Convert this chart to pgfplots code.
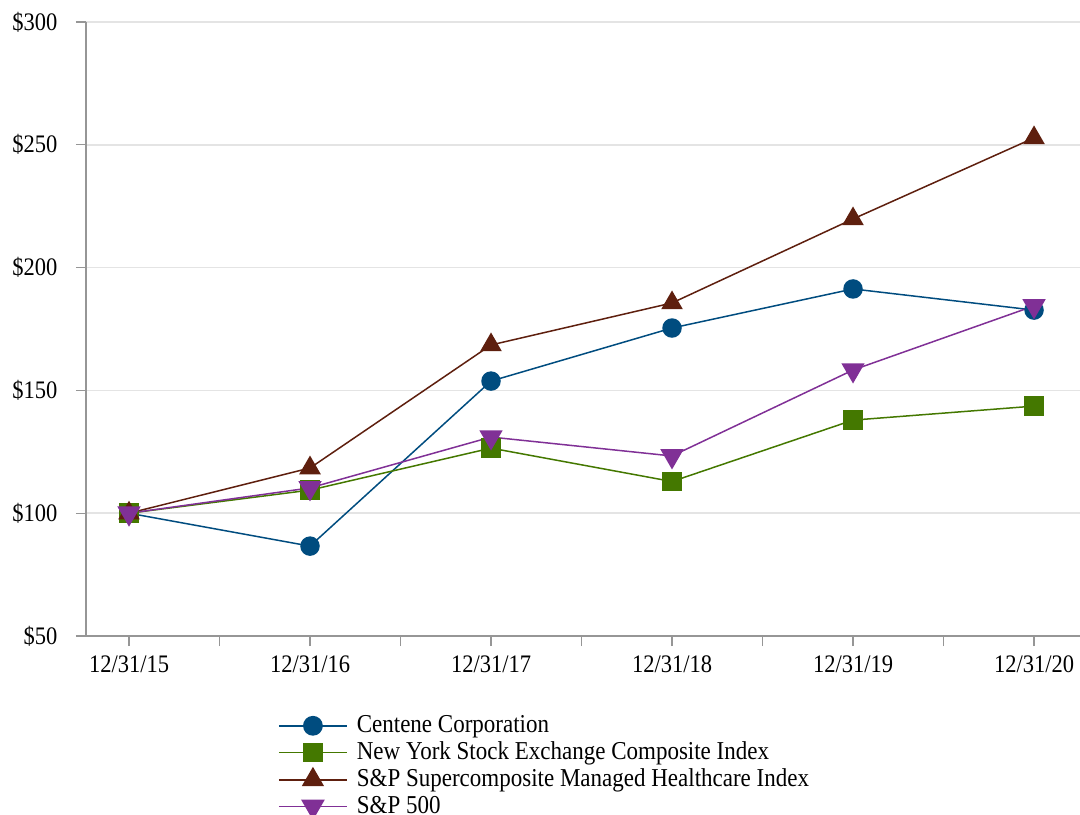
\documentclass[border=0pt]{standalone}
\usepackage{fontspec}
\setmainfont{Liberation Serif}
\usepackage{graphicx}
\usepackage{pgfplots}
\pgfplotsset{compat=1.18}
\definecolor{cblue}{RGB}{0,76,127}
\definecolor{cgreen}{RGB}{68,120,0}
\definecolor{cbrown}{RGB}{94,31,14}
\definecolor{cpurple}{RGB}{128,48,150}
\definecolor{axgray}{RGB}{150,150,150}
\definecolor{gridgray}{RGB}{228,228,228}
\newcommand{\vs}[1]{\scalebox{1}[1.12]{#1}}
\begin{document}
\fontsize{22.5bp}{26bp}\selectfont
\begin{tikzpicture}
\useasboundingbox (-86bp,-179bp) rectangle (994bp,636bp);
\begin{axis}[
  at={(0,0)}, anchor=south west,
  scale only axis, width=994bp, height=614bp,
  xmin=-0.2376, xmax=5.254, ymin=50, ymax=300,
  axis x line*=bottom, axis y line*=left,
  axis line style={draw=axgray, line width=1.3bp},
  xtick={0,...,5},
  xticklabels={\vs{12/31/15},\vs{12/31/16},\vs{12/31/17},\vs{12/31/18},\vs{12/31/19},\vs{12/31/20}},
  minor xtick={0.5,1.5,2.5,3.5,4.5},
  ytick={50,100,...,300},
  yticklabels={\vs{\$50},\vs{\$100},\vs{\$150},\vs{\$200},\vs{\$250},\vs{\$300}},
  ymajorgrids, grid style={draw=gridgray, line width=1.5bp},
  tick style={draw=axgray, line width=1.3bp},
  tick align=outside, major tick length=10bp, minor tick length=10bp,
  tick label style={font=\fontsize{22.5bp}{26bp}\selectfont},
  yticklabel style={xshift=-11bp},
  xticklabel style={yshift=-2bp},
  /pgf/number format/assume math mode=true,
  legend style={at={(0.193,-0.126)}, anchor=north west, draw=none, fill=none,
    font=\fontsize{23bp}{26bp}\selectfont, inner sep=0pt, row sep=1.9bp, column sep=7bp},
  legend cell align=left,
  legend image code/.code={\draw[line width=1.8bp, mark repeat=2, mark phase=2] plot coordinates {(0bp,0bp) (34bp,0bp) (68bp,0bp)};},
]
\addplot[cblue, line width=1.5bp, mark=*, mark size=9bp, mark options={solid, fill=cblue, draw=cblue}]
  coordinates {(0,100) (1,86.6) (2,153.8) (3,175.4) (4,191.3) (5,182.7)};
\addlegendentry{\vs{Centene Corporation}}
\addplot[cgreen, line width=1.5bp, mark=square*, mark size=9bp, mark options={solid, fill=cgreen, draw=cgreen}]
  coordinates {(0,100) (1,109.4) (2,126.5) (3,112.9) (4,137.9) (5,143.6)};
\addlegendentry{\vs{New York Stock Exchange Composite Index}}
\addplot[cbrown, line width=1.5bp, mark=triangle*, mark size=11bp, mark options={solid, fill=cbrown, draw=cbrown}]
  coordinates {(0,100) (1,118.4) (2,168.5) (3,185.6) (4,219.8) (5,252.8)};
\addlegendentry{\vs{S\&P Supercomposite Managed Healthcare Index}}
\addplot[cpurple, line width=1.5bp, mark=triangle*, mark size=12bp, mark options={solid, fill=cpurple, draw=cpurple, rotate=180}]
  coordinates {(0,100) (1,110.3) (2,131.0) (3,123.3) (4,158.3) (5,184.4)};
\addlegendentry{\vs{S\&P 500}}
\end{axis}
\end{tikzpicture}
\end{document}
